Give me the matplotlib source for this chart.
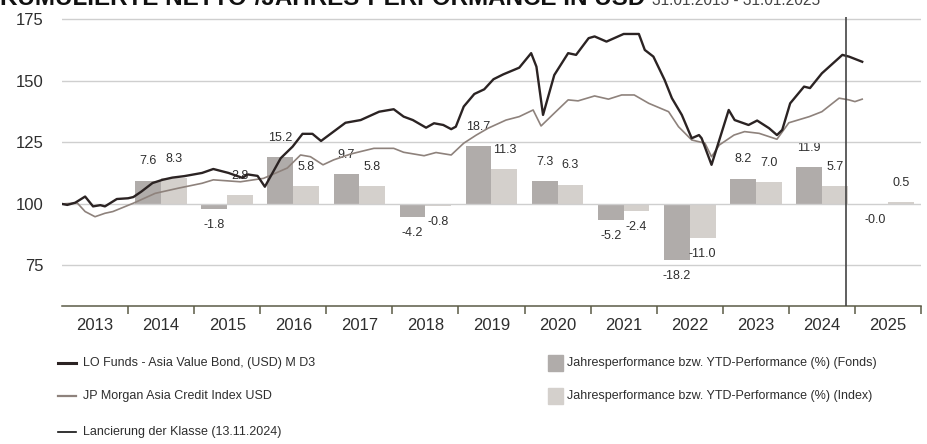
#!/usr/bin/env python3
"""Kumulierte Netto-/Jahres-Performance, LO Funds - Asia Value Bond vs JP Morgan Asia Credit Index."""
import pandas as pd
import matplotlib
matplotlib.use("Agg")
import matplotlib.pyplot as plt
from matplotlib.lines import Line2D
from matplotlib.patches import Rectangle

plt.rcParams["font.family"] = ["Liberation Sans Narrow", "Liberation Sans", "DejaVu Sans"]

# cumulative performance (rebased 100), time in decimal years
FUND_T = [2013.00, 2013.08, 2013.20, 2013.35, 2013.47, 2013.58, 2013.65, 2013.83, 2014.00,
          2014.08, 2014.20, 2014.37, 2014.52, 2014.67, 2014.85, 2015.12, 2015.29, 2015.52,
          2015.73, 2015.81, 2015.96, 2016.07, 2016.31, 2016.49, 2016.64, 2016.79, 2016.92,
          2017.04, 2017.29, 2017.52, 2017.80, 2018.02, 2018.17, 2018.31, 2018.51, 2018.63,
          2018.77, 2018.89, 2018.96, 2019.08, 2019.24, 2019.39, 2019.53, 2019.68, 2019.92,
          2020.10, 2020.18, 2020.28, 2020.45, 2020.66, 2020.78, 2020.97, 2021.06, 2021.24,
          2021.50, 2021.73, 2021.82, 2021.95, 2022.12, 2022.23, 2022.38, 2022.53, 2022.64,
          2022.68, 2022.83, 2023.09, 2023.18, 2023.39, 2023.52, 2023.70, 2023.82, 2023.90,
          2024.02, 2024.23, 2024.32, 2024.50, 2024.81, 2024.91, 2025.11]
FUND_V = [100.0, 99.6, 100.5, 103.0, 99.0, 99.5, 99.0, 102.0, 102.3,
          102.8, 105.0, 108.5, 109.8, 110.7, 111.3, 112.6, 114.2, 112.6,
          110.6, 112.0, 111.4, 107.0, 118.6, 123.3, 128.5, 128.5, 125.6,
          128.0, 133.0, 134.1, 137.5, 138.5, 135.5, 134.1, 131.0, 132.8,
          132.1, 130.4, 131.4, 139.6, 144.7, 146.6, 150.7, 152.7, 155.4,
          161.3, 155.8, 136.2, 152.4, 161.3, 160.6, 167.4, 168.1, 166.0,
          169.1, 169.1, 162.6, 159.9, 150.4, 143.0, 136.2, 126.7, 128.0,
          126.7, 115.9, 138.2, 134.1, 132.1, 133.9, 130.8, 128.0, 130.1,
          140.9, 147.7, 147.1, 153.1, 160.6, 159.9, 157.8]

INDEX_T = [2013.00, 2013.23, 2013.35, 2013.50, 2013.65, 2013.77, 2014.08, 2014.41, 2014.76,
           2015.12, 2015.29, 2015.70, 2016.05, 2016.41, 2016.61, 2016.76, 2016.95, 2017.11,
           2017.37, 2017.52, 2017.72, 2018.02, 2018.17, 2018.48, 2018.66, 2018.89, 2019.08,
           2019.27, 2019.45, 2019.72, 2019.92, 2020.13, 2020.25, 2020.45, 2020.66, 2020.81,
           2021.06, 2021.27, 2021.47, 2021.66, 2021.88, 2022.18, 2022.33, 2022.53, 2022.73,
           2022.83, 2022.95, 2023.17, 2023.33, 2023.55, 2023.82, 2024.00, 2024.31, 2024.50,
           2024.76, 2024.91, 2025.00, 2025.11]
INDEX_V = [100.0, 100.4, 96.9, 94.8, 96.2, 96.9, 100.3, 104.3, 106.4,
           108.4, 109.8, 109.0, 110.4, 114.6, 119.9, 119.2, 115.9, 117.9,
           120.3, 121.3, 122.6, 122.6, 121.0, 119.6, 120.9, 119.9, 124.7,
           128.0, 130.8, 134.1, 135.5, 138.2, 131.7, 136.9, 142.3, 141.9,
           143.9, 142.6, 144.3, 144.3, 140.9, 137.5, 131.4, 126.0, 124.7,
           119.2, 124.0, 128.0, 129.4, 128.7, 126.3, 133.0, 135.5, 137.5,
           143.0, 142.3, 141.6, 142.6]

# annual / YTD performance in %
YEARS = [2014, 2015, 2016, 2017, 2018, 2019, 2020, 2021, 2022, 2023, 2024, 2025]
PERF_FUND = [7.6, -1.8, 15.2, 9.7, -4.2, 18.7, 7.3, -5.2, -18.2, 8.2, 11.9, -0.0]
PERF_INDEX = [8.3, 2.8, 5.8, 5.8, -0.8, 11.3, 6.3, -2.4, -11.0, 7.0, 5.7, 0.5]

YEAR_LABELS = list(range(2013, 2026))
LAUNCH_DATE = "2024-11-13"

TITLE = "KUMULIERTE NETTO-/JAHRES-PERFORMANCE IN USD"
PERIOD = "31.01.2013 - 31.01.2025"
LEG_FUND = "LO Funds - Asia Value Bond, (USD) M D3"
LEG_INDEX = "JP Morgan Asia Credit Index USD"
LEG_LAUNCH = "Lancierung der Klasse (13.11.2024)"
LEG_BAR_FUND = "Jahresperformance bzw. YTD-Performance (%) (Fonds)"
LEG_BAR_INDEX = "Jahresperformance bzw. YTD-Performance (%) (Index)"

C_FUND = "#2b2323"
C_INDEX = "#8e827c"
C_BAR_FUND = "#b0acaa"
C_BAR_INDEX = "#d4d0cc"
C_AXIS = "#5b5b46"
C_TEXT = "#2e2e2e"

W, H = 928, 444
BAR_SCALE = 1.25  # chart units per % of annual performance


def to_decimal_year(date_str):
    d = pd.Timestamp(date_str)
    days = 366 if d.is_leap_year else 365
    return d.year + (d.dayofyear - 1) / days


def fx(px):
    return px / W


def fy(py):
    return 1 - py / H


def main():
    fig = plt.figure(figsize=(W / 100, H / 100), dpi=100)
    ax = fig.add_axes([fx(62), fy(306), fx(921) - fx(62), fy(17) - fy(306)])
    ax_b = ax.twinx()
    ax.set_zorder(ax_b.get_zorder() + 1)
    ax.patch.set_visible(False)

    y0, y1 = 58.5, 176.0
    ax.set_ylim(y0, y1)
    ax.set_xlim(2013, 2026)
    ax_b.set_ylim((y0 - 100) / BAR_SCALE, (y1 - 100) / BAR_SCALE)

    # grid
    for v in [75, 100, 125, 150, 175]:
        ax.axhline(v, color="#cfcfcf", lw=1.0, zorder=0)

    # bars
    w = 0.39
    xf = [y + 0.305 for y in YEARS]
    xi = [y + 0.695 for y in YEARS]
    ax_b.bar(xf, PERF_FUND, width=w, color=C_BAR_FUND, zorder=1)
    ax_b.bar(xi, PERF_INDEX, width=w, color=C_BAR_INDEX, zorder=1)
    for xs, vals in ((xf, PERF_FUND), (xi, PERF_INDEX)):
        for x, v in zip(xs, vals):
            lab = f"{v:.1f}"
            off = -11.5 if lab.startswith("-") else 14
            ax_b.annotate(lab, (x, v), xytext=(0, off), textcoords="offset points",
                          ha="center", va="center", fontsize=9, color=C_TEXT)

    # lines
    ax.plot(FUND_T, FUND_V, color=C_FUND, lw=1.7, zorder=4)
    ax.plot(INDEX_T, INDEX_V, color=C_INDEX, lw=1.2, zorder=3)
    ax.axvline(to_decimal_year(LAUNCH_DATE), color="#444444", lw=1.2, zorder=5)

    # axes styling
    for s in ("top", "right", "left"):
        ax.spines[s].set_visible(False)
        ax_b.spines[s].set_visible(False)
    ax_b.spines["bottom"].set_visible(False)
    ax.spines["bottom"].set_color(C_AXIS)
    ax.spines["bottom"].set_linewidth(1.1)
    ax_b.set_yticks([])

    ax.set_yticks([75, 100, 125, 150, 175])
    ax.tick_params(axis="y", length=0, pad=13, labelsize=12, labelcolor=C_TEXT)
    ax.set_xticks(range(2014, 2027))
    ax.set_xticklabels([])
    ax.set_xticks([y + 0.5 for y in YEAR_LABELS], minor=True)
    ax.set_xticklabels([str(y) for y in YEAR_LABELS], minor=True)
    ax.tick_params(axis="x", which="major", length=6, width=1.1, color=C_AXIS, direction="out")
    ax.tick_params(axis="x", which="minor", length=0, pad=9, labelsize=12, labelcolor=C_TEXT)

    # title (partly cut off at the top, as in the source)
    fig.text(0.0, fy(5), TITLE, fontsize=17.4, fontweight="bold", color="#111111",
             va="baseline", ha="left")
    fig.text(fx(652), fy(5), PERIOD, fontsize=11.2, color="#444444", va="baseline", ha="left")

    # legend
    rows = [363, 396, 432]
    lines = [(LEG_FUND, C_FUND, 2.2), (LEG_INDEX, C_INDEX, 1.6), (LEG_LAUNCH, "#111111", 1.2)]
    for (txt, col, lw), r in zip(lines, rows):
        fig.add_artist(Line2D([fx(58), fx(76)], [fy(r), fy(r)], color=col, lw=lw))
        fig.text(fx(83), fy(r), txt, fontsize=9, color=C_TEXT, va="center", ha="left")
    for (txt, col), r in zip([(LEG_BAR_FUND, C_BAR_FUND), (LEG_BAR_INDEX, C_BAR_INDEX)], rows[:2]):
        fig.add_artist(Rectangle((fx(548), fy(r + 8)), fx(15), 16 / H, color=col,
                                 transform=fig.transFigure))
        fig.text(fx(567), fy(r), txt, fontsize=9, color=C_TEXT, va="center", ha="left")

    fig.savefig("out.png", dpi=100)
    plt.close(fig)


if __name__ == "__main__":
    main()
